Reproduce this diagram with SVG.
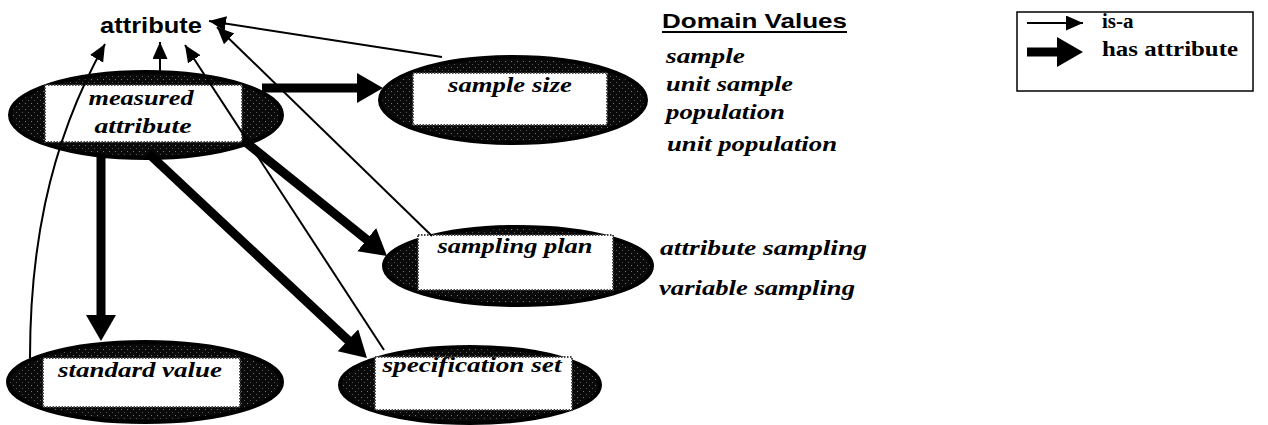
<svg xmlns="http://www.w3.org/2000/svg" width="1268" height="425" viewBox="0 0 1268 425">
<style>
.node-ell{fill:url(#stip);stroke:#000;stroke-width:4}
.node-box{fill:#fff;stroke:#444;stroke-width:2;stroke-dasharray:1.5 1.5}
.lbl{font-family:"Liberation Serif","Times New Roman",serif;font-style:italic;font-weight:bold;font-size:21px;fill:#000;text-anchor:middle}
.dv{font-family:"Liberation Serif","Times New Roman",serif;font-style:italic;font-weight:bold;font-size:21px;fill:#000}
.isa{fill:none;stroke:#000;stroke-width:2;marker-end:url(#thin)}
.has{fill:none;stroke:#000;stroke-width:9;marker-end:url(#thick)}
.leg{font-family:"Liberation Serif","Times New Roman",serif;font-weight:bold;font-size:21px;fill:#000}
</style>
<defs>
<pattern id="stip" width="6" height="6" patternUnits="userSpaceOnUse">
<rect width="6" height="6" fill="#0a0a0a"/>
<rect x="1" y="1" width="1" height="1" fill="#777"/>
<rect x="4" y="4" width="1" height="1" fill="#555"/>
</pattern>
<marker id="thin" markerUnits="userSpaceOnUse" markerWidth="19" markerHeight="16" refX="17" refY="7.5" orient="auto">
<path d="M0,0 L17,7.5 L0,15 z" fill="#000"/>
</marker>
<marker id="thick" markerUnits="userSpaceOnUse" markerWidth="28" markerHeight="32" refX="1" refY="15" orient="auto">
<path d="M0,0 L26,15 L0,30 z" fill="#000"/>
</marker>
</defs>
<rect width="1268" height="425" fill="#fff"/>

<g id="attribute">
<text x="151" y="33" font-family="Liberation Sans, Arial, sans-serif" font-size="22" font-weight="bold" text-anchor="middle" textLength="102" lengthAdjust="spacingAndGlyphs">attribute</text>
</g>

<g id="measured-attribute">
<ellipse class="node-ell" cx="146" cy="115" rx="136" ry="43"/>
<rect class="node-box" x="45" y="85" width="197" height="57"/>
<text class="lbl" x="141" y="105" textLength="105" lengthAdjust="spacingAndGlyphs">measured</text>
<text class="lbl" x="143" y="133" textLength="97" lengthAdjust="spacingAndGlyphs">attribute</text>
</g>

<g id="sample-size">
<ellipse class="node-ell" cx="513" cy="100" rx="133" ry="43"/>
<rect class="node-box" x="413" y="73" width="194" height="52"/>
<text class="lbl" x="510" y="92" textLength="124" lengthAdjust="spacingAndGlyphs">sample size</text>
</g>

<g id="sampling-plan">
<ellipse class="node-ell" cx="518" cy="266" rx="134" ry="39"/>
<rect class="node-box" x="418" y="235" width="195" height="55"/>
<text class="lbl" x="515" y="253" textLength="155" lengthAdjust="spacingAndGlyphs">sampling plan</text>
</g>

<g id="specification-set">
<ellipse class="node-ell" cx="470" cy="385" rx="130" ry="38"/>
<rect class="node-box" x="375" y="357" width="197" height="53"/>
<text class="lbl" x="472" y="372" textLength="179" lengthAdjust="spacingAndGlyphs">specification set</text>
</g>

<g id="standard-value">
<ellipse class="node-ell" cx="145" cy="382" rx="137" ry="40"/>
<rect class="node-box" x="43" y="358" width="197" height="49"/>
<text class="lbl" x="140" y="377" textLength="164" lengthAdjust="spacingAndGlyphs">standard value</text>
</g>

<g id="connectors">
<path class="isa" d="M30,358 C30,260 45,150 105,44"/>
<path class="isa" d="M160,72 L160,42"/>
<path class="isa" d="M384,350 L185,45"/>
<path class="isa" d="M432,236 L217,27"/>
<path class="isa" d="M442,57 L209,21"/>
<path class="has" d="M262,88 L358,88"/>
<path class="has" d="M101,155 L101,316"/>
<path class="has" d="M243,140 L367.5,240.3"/>
<path class="has" d="M148,153 L348.7,340.9"/>
</g>

<g id="domain-values">
<text x="662" y="28" font-family="Liberation Sans, Arial, sans-serif" font-size="21" font-weight="bold" textLength="185" lengthAdjust="spacingAndGlyphs">Domain Values</text>
<line x1="662" y1="32" x2="847" y2="32" stroke="#000" stroke-width="2"/>
<text class="dv" x="666" y="63" textLength="79" lengthAdjust="spacingAndGlyphs">sample</text>
<text class="dv" x="666" y="91" textLength="127" lengthAdjust="spacingAndGlyphs">unit sample</text>
<text class="dv" x="666" y="119" textLength="119" lengthAdjust="spacingAndGlyphs">population</text>
<text class="dv" x="667" y="151" textLength="170" lengthAdjust="spacingAndGlyphs">unit population</text>
<text class="dv" x="660" y="255" textLength="207" lengthAdjust="spacingAndGlyphs">attribute sampling</text>
<text class="dv" x="659" y="295" textLength="196" lengthAdjust="spacingAndGlyphs">variable sampling</text>
</g>

<g id="legend">
<rect x="1017" y="12" width="236" height="79" fill="none" stroke="#000" stroke-width="1.5"/>
<path class="isa" d="M1027,23 L1083,23"/>
<path class="has" d="M1027,52 L1058,52"/>
<text class="leg" x="1102" y="28">is-a</text>
<text class="leg" x="1102" y="56" textLength="136" lengthAdjust="spacingAndGlyphs">has attribute</text>
</g>
</svg>
